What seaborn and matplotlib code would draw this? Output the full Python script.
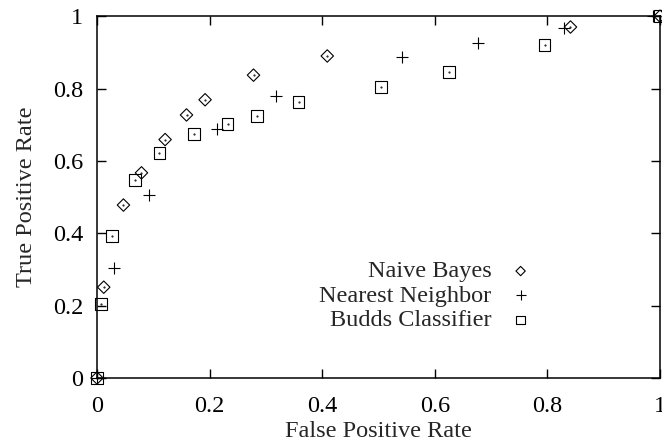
import numpy as np
import pandas as pd
import matplotlib
matplotlib.use("Agg")
import matplotlib.pyplot as plt
import seaborn as sns

# ROC points
nb_fpr = [0.0, 0.012, 0.047, 0.079, 0.121, 0.159, 0.192, 0.278, 0.409, 0.841, 1.0]
nb_tpr = [0.0, 0.251, 0.478, 0.567, 0.659, 0.727, 0.769, 0.837, 0.890, 0.970, 1.0]

nn_fpr = [0.0, 0.031, 0.092, 0.213, 0.318, 0.541, 0.677, 0.830, 0.988]
nn_tpr = [0.0, 0.303, 0.506, 0.687, 0.778, 0.888, 0.925, 0.968, 1.0]

bc_fpr = [0.0, 0.007, 0.027, 0.068, 0.111, 0.173, 0.232, 0.284, 0.358, 0.504, 0.625, 0.795, 1.0]
bc_tpr = [0.0, 0.204, 0.393, 0.547, 0.622, 0.675, 0.703, 0.725, 0.763, 0.805, 0.846, 0.921, 1.0]

ticks = [0, 0.2, 0.4, 0.6, 0.8, 1]
tick_labels = ["0", "0.2", "0.4", "0.6", "0.8", "1"]

FS = 17.5

sns.set_theme(style="ticks")
plt.rcParams["font.family"] = ["Liberation Serif", "DejaVu Serif"]

fig = plt.figure(figsize=(6.62, 4.37), dpi=100)
ax = fig.add_axes([0.1465, 0.135, 0.8505, 0.828])

series = [
    ("Naive Bayes", nb_fpr, nb_tpr, "D", 40),
    ("Nearest Neighbor", nn_fpr, nn_tpr, "+", 75),
    ("Budds Classifier", bc_fpr, bc_tpr, "s", 72),
]

for name, xs, ys, mk, size in series:
    df = pd.DataFrame({"fpr": xs, "tpr": ys})
    if mk == "+":
        sns.scatterplot(data=df, x="fpr", y="tpr", marker=mk, s=size, color="black",
                        linewidth=0.8, label=name, ax=ax, clip_on=False, zorder=5)
    else:
        sns.scatterplot(data=df, x="fpr", y="tpr", marker=mk, s=size, facecolor="none",
                        edgecolor="black", linewidth=0.8, label=name, ax=ax,
                        clip_on=False, zorder=5)
        # gnuplot-style centre dot
        ax.scatter(df["fpr"], df["tpr"], marker=".", s=1, color="black",
                   clip_on=False, zorder=6)

ax.set_xlim(0, 1)
ax.set_ylim(0, 1)
ax.set_xticks(ticks)
ax.set_xticklabels(tick_labels)
ax.set_yticks(ticks)
ax.set_yticklabels(tick_labels)
ax.tick_params(direction="in", length=6.5, width=1, top=True, right=True,
               labelsize=FS, colors="black")
ax.tick_params(axis="y", pad=10)
ax.tick_params(axis="x", pad=13)
for sp in ax.spines.values():
    sp.set_linewidth(1.1)
    sp.set_color("black")

ax.set_xlabel("False Positive Rate", fontsize=FS, labelpad=3)
ax.set_ylabel("True Positive Rate", fontsize=FS, labelpad=11)

leg = ax.legend(loc="upper right", bbox_to_anchor=(0.774, 0.325), markerfirst=False,
                frameon=False, fontsize=FS, handlelength=1.0, handletextpad=0.7,
                labelspacing=0.1, borderpad=0, borderaxespad=0, markerscale=0.75)
for t in leg.get_texts():
    t.set_ha("right")

fig.savefig("out.png", dpi=100)
